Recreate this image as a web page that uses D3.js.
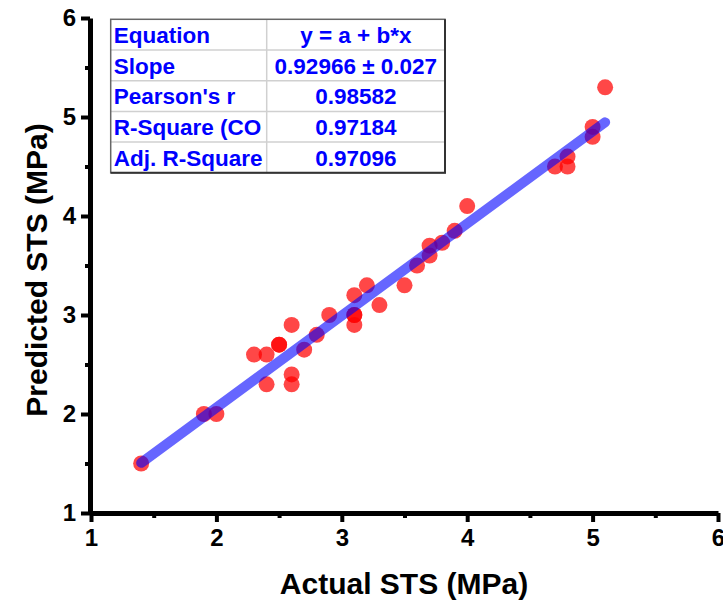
<!DOCTYPE html>
<html><head><meta charset="utf-8">
<script src="https://cdn.jsdelivr.net/npm/d3@7"></script>
<style>body{margin:0;background:#fff}svg{display:block}text{font-family:"Liberation Sans",Arial,sans-serif;font-weight:bold}</style>
</head><body>
<svg id="c" width="723" height="602"></svg>
<script>
const actual = [1.4,1.9,2.0,2.3,2.4,2.4,2.5,2.5,2.6,2.6,2.6,2.7,2.8,2.9,3.1,3.1,3.1,3.1,3.2,3.3,3.5,3.6,3.7,3.7,3.8,3.9,4.0,4.7,4.8,4.8,5.0,5.0,5.1];
const predicted = [1.5,2.0,2.0,2.6,2.6,2.3,2.7,2.7,2.9,2.4,2.3,2.65,2.8,3.0,3.2,3.0,3.0,2.9,3.3,3.1,3.3,3.5,3.6,3.7,3.73,3.85,4.1,4.5,4.6,4.5,4.9,4.8,5.3];
const fitIntercept = 0.205, fitSlope = 0.92966;
const ticks = [1,2,3,4,5,6];
const minorTicks = [1.5,2.5,3.5,4.5,5.5];
const tableLabels = ["Equation","Slope","Pearson's r","R-Square (CO","Adj. R-Square"];
const tableValues = ["y = a + b*x","0.92966 \u00b1 0.027","0.98582","0.97184","0.97096"];

const svg = d3.select("#c");
const x = d3.scaleLinear().domain([1,6]).range([91,718]);
const y = d3.scaleLinear().domain([1,6]).range([513,18]);

// points
svg.append("g").selectAll("circle").data(actual).join("circle")
  .attr("cx",(d)=>x(d)).attr("cy",(d,i)=>y(predicted[i])).attr("r",8)
  .attr("fill","rgba(255,0,0,0.72)");
// fit line
const xr = d3.extent(actual);
svg.append("line").attr("x1",x(xr[0])).attr("y1",y(fitIntercept+fitSlope*xr[0]))
  .attr("x2",x(xr[1])).attr("y2",y(fitIntercept+fitSlope*xr[1]))
  .attr("stroke","rgba(0,0,255,0.6)").attr("stroke-width",10).attr("stroke-linecap","round");

// axes
const xa = svg.append("g").attr("transform","translate(0,513)");
xa.call(d3.axisBottom(x).tickValues(ticks).tickFormat(d3.format("d")).tickSize(9).tickPadding(7).tickSizeOuter(0));
const xm = svg.append("g").attr("transform","translate(0,513)");
xm.call(d3.axisBottom(x).tickValues(minorTicks).tickFormat("").tickSize(5));
const ya = svg.append("g").attr("transform","translate(90,0)");
ya.call(d3.axisLeft(y).tickValues(ticks).tickFormat(d3.format("d")).tickSize(9).tickPadding(5).tickSizeOuter(0));
const ym = svg.append("g").attr("transform","translate(90,0)");
ym.call(d3.axisLeft(y).tickValues(minorTicks).tickFormat("").tickSize(5));
svg.selectAll(".domain").attr("stroke","#000").attr("stroke-width",5);
svg.selectAll(".tick line").attr("stroke","#000").attr("stroke-width",4);
svg.selectAll(".tick text").attr("fill","#000").attr("font-family","Liberation Sans").attr("font-weight","700")
  .style("font-size","24px").style("font-family","Liberation Sans").style("font-weight","700");
xm.select(".domain").remove(); ym.select(".domain").remove();

// titles
svg.append("text").attr("x",404).attr("y",594).attr("text-anchor","middle").style("font-size","30px").text("Actual STS (MPa)");
svg.append("text").attr("transform","translate(47,270) rotate(-90)").attr("text-anchor","middle").style("font-size","30px").text("Predicted STS (MPa)");

// table
const tx0=110.7, tx1=266.7, tx2=445, ty0=19.3, rh=30.7;
const tb = svg.append("g");
tb.append("rect").attr("x",tx0).attr("y",ty0).attr("width",tx2-tx0).attr("height",rh*5).attr("fill","#fff");
for(let i=1;i<5;i++) tb.append("line").attr("x1",tx0).attr("x2",tx2).attr("y1",ty0+rh*i).attr("y2",ty0+rh*i).attr("stroke","#d0d0d0").attr("stroke-width",1.5);
tb.append("line").attr("x1",tx1).attr("x2",tx1).attr("y1",ty0).attr("y2",ty0+rh*5).attr("stroke","#d0d0d0").attr("stroke-width",1.5);
tb.append("rect").attr("x",tx0).attr("y",ty0).attr("width",tx2-tx0).attr("height",rh*5).attr("fill","none").attr("stroke","#666").attr("stroke-width",1.5);
tb.append("polyline").attr("points",`${tx2},${ty0} ${tx2},${ty0+rh*5} ${tx0},${ty0+rh*5}`).attr("fill","none").attr("stroke","#333").attr("stroke-width",2);
tb.selectAll("text.l").data(tableLabels).join("text").attr("class","l")
  .attr("x",tx0+3).attr("y",(d,i)=>ty0+rh*i+23.5).attr("fill","#0000ff").style("font-size","22.5px").text(d=>d);
tb.selectAll("text.v").data(tableValues).join("text").attr("class","v")
  .attr("x",(tx1+tx2)/2).attr("y",(d,i)=>ty0+rh*i+23.5).attr("text-anchor","middle").attr("fill","#0000ff").style("font-size","22.5px").text(d=>d);
</script>
</body></html>
